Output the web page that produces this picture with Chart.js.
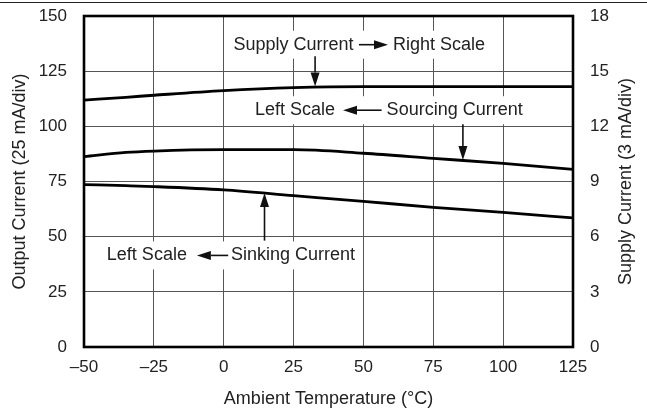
<!DOCTYPE html>
<html><head><meta charset="utf-8">
<script src="https://cdn.jsdelivr.net/npm/chart.js@4"></script>
<style>html,body{margin:0;padding:0;background:#fff}#wrap{width:647px;height:412px;position:relative}</style>
</head><body><div id="wrap"><canvas id="c" width="647" height="412"></canvas></div>
<script>
const temps = [-50, -35, -25, 0, 25, 50, 75, 100, 125];
const sourcingCurrent = [86.3, 88.2, 88.8, 89.4, 89.4, 87.8, 85.5, 83.2, 80.5];
const sinkingCurrent = [73.6, 73.1, 72.7, 71.2, 68.6, 66.0, 63.3, 61.0, 58.5];
const supplyCurrent = [13.43, 13.58, 13.69, 13.94, 14.10, 14.16, 14.16, 14.16, 14.16];
const xTicks = [-50, -25, 0, 25, 50, 75, 100, 125];
const xTickLabels = ['\u201350', '\u201325', '0', '25', '50', '75', '100', '125'];
const leftTicks = [0, 25, 50, 75, 100, 125, 150];
const rightTicks = [0, 3, 6, 9, 12, 15, 18];
const xTitle = 'Ambient Temperature (\u00B0C)';
const leftTitle = 'Output Current (25 mA/div)';
const rightTitle = 'Supply Current (3 mA/div)';

const FONT = '"Liberation Sans", Arial, Helvetica, sans-serif';
const toPts = ys => temps.map((t, i) => ({x: t, y: ys[i]}));

const annotationPlugin = {
  id: 'annots',
  afterDraw(chart) {
    const ctx = chart.ctx, xs = chart.scales.x, ys = chart.scales.y, a = chart.chartArea;
    const X = v => xs.getPixelForValue(v), Y = v => ys.getPixelForValue(v);
    ctx.save();
    ctx.font = '18px ' + FONT;
    ctx.textBaseline = 'middle';
    function whiteBox(x1, x2, yc, h) {
      ctx.fillStyle = '#fff';
      ctx.fillRect(x1, yc - h / 2, x2 - x1, h);
    }
    function text(str, x, y, align) {
      ctx.fillStyle = '#222';
      ctx.textAlign = align;
      ctx.fillText(str, x, y);
    }
    function arrow(x1, y1, x2, y2) {
      ctx.strokeStyle = '#111'; ctx.fillStyle = '#111'; ctx.lineWidth = 1.6;
      const ang = Math.atan2(y2 - y1, x2 - x1), L = 14, W = 4.5;
      const bx = x2 - L * Math.cos(ang), by = y2 - L * Math.sin(ang);
      ctx.beginPath(); ctx.moveTo(x1, y1); ctx.lineTo(bx, by); ctx.stroke();
      ctx.beginPath(); ctx.moveTo(x2, y2);
      ctx.lineTo(bx + W * Math.sin(ang), by - W * Math.cos(ang));
      ctx.lineTo(bx - W * Math.sin(ang), by + W * Math.cos(ang));
      ctx.closePath(); ctx.fill();
    }
    // Row 1: Supply Current -> Right Scale
    let yc = Y(137);
    let w1 = ctx.measureText('Supply Current').width;
    let w2 = ctx.measureText('Right Scale').width;
    whiteBox(X(25) - w1 / 2 - 4, X(60.6) + w2 + 4, yc, 28);
    text('Supply Current', X(25), yc, 'center');
    arrow(X(48.4), yc, X(58.8), yc);
    text('Right Scale', X(60.6), yc, 'left');
    arrow(X(32.7), Y(131.8), X(32.7), Y(118.1));
    // Row 2: Left Scale <- Sourcing Current
    yc = Y(107.3);
    w1 = ctx.measureText('Left Scale').width;
    w2 = ctx.measureText('Sourcing Current').width;
    whiteBox(X(25.5) - w1 / 2 - 4, X(58.3) + w2 + 4, yc, 28);
    text('Left Scale', X(25.5), yc, 'center');
    arrow(X(56.5), yc, X(42.7), yc);
    text('Sourcing Current', X(58.3), yc, 'left');
    arrow(X(85.6), Y(101), X(85.6), Y(84.7));
    // Row 3: Left Scale <- Sinking Current
    yc = Y(41.5);
    w1 = ctx.measureText('Left Scale').width;
    w2 = ctx.measureText('Sinking Current').width;
    whiteBox(X(-27.5) - w1 / 2 - 4, X(2.6) + w2 + 4, yc, 28);
    text('Left Scale', X(-27.5), yc, 'center');
    arrow(X(1.6), yc, X(-9.6), yc);
    text('Sinking Current', X(2.6), yc, 'left');
    arrow(X(14.6), Y(48.2), X(14.6), Y(69.8));
    // plot border
    ctx.strokeStyle = '#000'; ctx.lineWidth = 2.6;
    ctx.strokeRect(a.left, a.top, a.right - a.left, a.bottom - a.top);
    // right axis title (reads bottom-to-top)
    ctx.save();
    ctx.translate(626, (a.top + a.bottom) / 2);
    ctx.rotate(-Math.PI / 2);
    ctx.font = '18px ' + FONT;
    ctx.fillStyle = '#222'; ctx.textAlign = 'center'; ctx.textBaseline = 'middle';
    ctx.fillText(rightTitle, 0, 0);
    ctx.restore();
    // header rule
    ctx.lineWidth = 1.2; ctx.strokeStyle = '#222';
    ctx.beginPath(); ctx.moveTo(0, 2.5); ctx.lineTo(647, 2.5); ctx.stroke();
    ctx.restore();
  }
};

const lineStyle = {borderColor: '#000', borderWidth: 2.8, pointRadius: 0, fill: false, cubicInterpolationMode: 'monotone'};
const fitV = w => s => { s.width = w; s.paddingTop = 0; s.paddingBottom = 0; };

new Chart(document.getElementById('c'), {
  type: 'line',
  data: {
    datasets: [
      Object.assign({label: 'Supply Current', data: toPts(supplyCurrent), yAxisID: 'y1'}, lineStyle),
      Object.assign({label: 'Sourcing Current', data: toPts(sourcingCurrent), yAxisID: 'y'}, lineStyle),
      Object.assign({label: 'Sinking Current', data: toPts(sinkingCurrent), yAxisID: 'y'}, lineStyle)
    ]
  },
  options: {
    responsive: false, animation: false,
    layout: {padding: {left: 0, right: 0, top: 16, bottom: 0}},
    plugins: {legend: {display: false}, tooltip: {enabled: false}},
    scales: {
      x: {
        type: 'linear', min: -50, max: 125,
        afterBuildTicks: s => { s.ticks = xTicks.map(v => ({value: v})); },
        afterFit: s => { s.height = 65; s.paddingLeft = 0; s.paddingRight = 0; },
        ticks: {color: '#222', font: {family: FONT, size: 17}, padding: 10, maxRotation: 0,
          callback: v => xTickLabels[xTicks.indexOf(v)]},
        grid: {color: '#555', lineWidth: 1, drawTicks: false},
        border: {display: false},
        title: {display: true, text: xTitle, color: '#222', font: {family: FONT, size: 18}, padding: {top: 2, bottom: 2}}
      },
      y: {
        position: 'left', min: 0, max: 150,
        afterBuildTicks: s => { s.ticks = leftTicks.map(v => ({value: v})); },
        afterFit: fitV(84),
        ticks: {color: '#222', font: {family: FONT, size: 17}, padding: 17},
        grid: {color: '#555', lineWidth: 1, drawTicks: false},
        border: {display: false},
        title: {display: true, text: leftTitle, color: '#222', font: {family: FONT, size: 18}, padding: {top: 9, bottom: 0}}
      },
      y1: {
        position: 'right', min: 0, max: 18,
        afterBuildTicks: s => { s.ticks = rightTicks.map(v => ({value: v})); },
        afterFit: fitV(74),
        ticks: {color: '#222', font: {family: FONT, size: 17}, padding: 17},
        grid: {display: false, drawTicks: false},
        border: {display: false},
        title: {display: false}
      }
    }
  },
  plugins: [annotationPlugin]
});
</script></body></html>
